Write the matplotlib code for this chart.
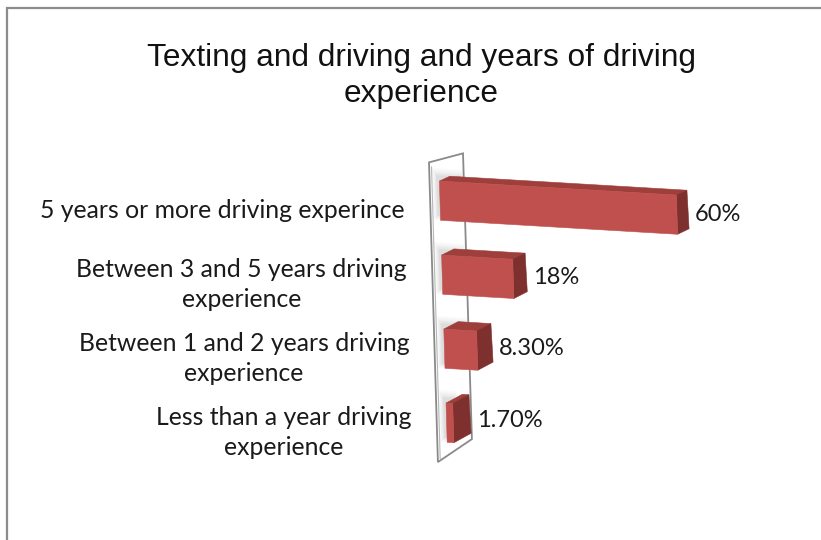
import matplotlib
matplotlib.use("Agg")
import matplotlib.pyplot as plt
from matplotlib.patches import Polygon, Rectangle

# Chart content
title = "Texting and driving and years of driving\nexperience"
categories = [
    "5 years or more driving experince",
    "Between 3 and 5 years driving\nexperience",
    "Between 1 and 2 years driving\nexperience",
    "Less than a year driving\nexperience",
]
values = [60, 18, 8.3, 1.7]
value_labels = ["60%", "18%", "8.30%", "1.70%"]

# Colours
FRONT = "#C0504D"
SIDE = "#7E302E"
TOP = "#9E3F3C"
WALL_EDGE = "#8A8A8A"
LABEL_FONT = "Lato"

# Figure / scale layout (pixel-based, dpi 100)
W, H = 821, 540
PX_PER_PCT = 3.95      # horizontal pixels per percentage point
PX_PER_CAT = 74.0      # vertical pixels between category rows
X0, Y0 = 440.0, 200.7  # pixel position of value 0 on the first row

fig = plt.figure(figsize=(W / 100, H / 100), dpi=100)
ax = fig.add_axes([0, 0, 1, 1])
ax.set_xlim(-X0 / PX_PER_PCT, (W - X0) / PX_PER_PCT)
ax.set_ylim((H - Y0) / PX_PER_CAT, -Y0 / PX_PER_CAT)
ax.axis("off")


def bar_depth(u):
    """Depth offset (pixels) of a bar's back faces; grows down the rows."""
    return 11.0 + 1.9 * u, 5.2 + 1.3 * u


def project(v, u, depth=0.0, ddx=None, ddy=None):
    """Oblique 3D-look projection of (value, row, depth) into data space."""
    if ddx is None:
        ddx, ddy = bar_depth(u)
    px = 2.2 * u + ddx * depth
    py = 0.233 * v - ddy * depth
    return (v + px / PX_PER_PCT, u + py / PX_PER_CAT)


# Back wall (value axis plane)
wall_v = -2.5
u_top, u_bot = -0.51, 3.54
wall = [
    project(wall_v, u_top, 0, 0, 0),
    project(wall_v, u_top, 1, 34, 9),
    project(wall_v, u_bot, 1, 34, 23),
    project(wall_v, u_bot, 0, 0, 0),
]
ax.add_patch(Polygon(wall, closed=True, facecolor="white",
                     edgecolor=WALL_EDGE, lw=1.3, zorder=1))
# inner edge of the wall thickness
ax.plot(*zip(project(wall_v + 0.6, u_top + 0.06, 0, 0, 0),
             project(wall_v + 0.6, u_bot - 0.05, 0, 0, 0)),
        color="#B8B8B8", lw=0.8, zorder=1)

half = 0.265  # half bar thickness in row units
for i, v in enumerate(values):
    u = float(i)
    ut, ub = u - half, u + half
    # soft shadow cast onto the wall, up and to the left of the bar
    for k, a in enumerate([0.04, 0.05, 0.07, 0.09]):
        g = (4 - k)
        sh = [project(-0.4 - g * 0.35, ut - 0.05 - g * 0.03, 0),
              project(min(v, 5) + g * 0.3, ut - 0.05 - g * 0.03, 0),
              project(min(v, 5) + g * 0.3, ub - 0.08 + g * 0.02, 0),
              project(-0.4 - g * 0.35, ub - 0.08 + g * 0.02, 0)]
        ax.add_patch(Polygon(sh, closed=True, facecolor="#707070",
                             edgecolor="none", alpha=a, zorder=2))
    front = [project(0, ut), project(v, ut), project(v, ub), project(0, ub)]
    top = [project(0, ut), project(v, ut), project(v, ut, 1), project(0, ut, 1)]
    side = [project(v, ut), project(v, ut, 1), project(v, ub, 1), project(v, ub)]
    ax.add_patch(Polygon(top, closed=True, facecolor=TOP, edgecolor=TOP,
                         lw=0.4, zorder=3))
    ax.add_patch(Polygon(side, closed=True, facecolor=SIDE, edgecolor=SIDE,
                         lw=0.4, zorder=3))
    ax.add_patch(Polygon(front, closed=True, facecolor=FRONT, edgecolor=FRONT,
                         lw=0.4, zorder=4))

    # value label beside the bar end
    bx, _ = project(v, u, 1)
    _, ly = project(v, u, 0.5)
    ax.text(bx + 7 / PX_PER_PCT, ly + 0.03, value_labels[i],
            family=LABEL_FONT, fontsize=17, color="#1a1a1a",
            ha="left", va="center", zorder=5)

    # category label
    cx, cy = project(-9.0, u + 0.16, 0)
    ax.text(cx, cy, categories[i], family=LABEL_FONT, fontsize=17.8,
            color="#1a1a1a", ha="right", va="center",
            multialignment="center", linespacing=1.33, zorder=5)

# Title
fig.text(421 / W, 1 - 76 / H, title, family="Liberation Sans",
         fontsize=22.8, ha="center", va="center", linespacing=1.3,
         color="#111111")

# Chart frame
fig.patches.append(Rectangle((7 / W, -0.1), 1.1, 1 - 8 / H + 0.1,
                             transform=fig.transFigure, fill=False,
                             edgecolor="#8C8C8C", lw=1.6))

fig.savefig("out.png", dpi=100)
